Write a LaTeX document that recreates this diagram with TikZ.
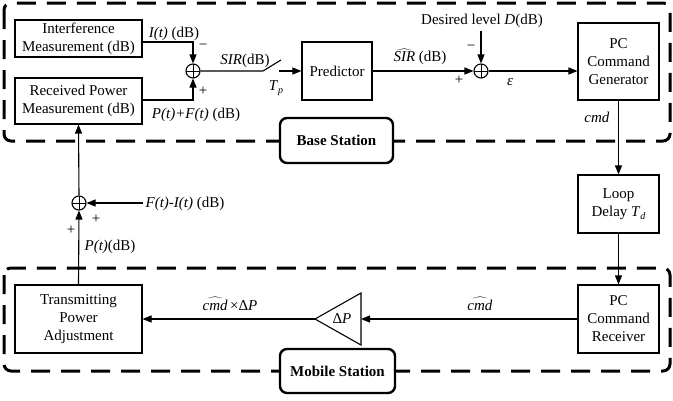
\documentclass[tikz,border=0pt]{standalone}
\usepackage{fontspec}
\setmainfont{Liberation Serif}
\usetikzlibrary{arrows.meta}
\newcommand{\lowsub}[1]{\raisebox{-0.45ex}{\fontsize{10}{10}\selectfont\textit{#1}}}
\newcommand{\hatted}[1]{$\widehat{\mbox{\textit{#1}}}$}

\begin{document}
\begin{tikzpicture}[x=1pt,y=-1pt,
  font=\fontsize{15}{18}\selectfont,
  blk/.style={draw, line width=1.1pt, align=center, inner sep=0pt},
  zone/.style={draw, line width=3pt, dash pattern=on 19pt off 11pt, rounded corners=7pt},
  tag/.style={draw, line width=2.4pt, rounded corners=7pt, fill=white,
              font=\fontsize{15}{18}\selectfont\bfseries, inner sep=0pt},
  sig/.style={line width=1.1pt},
  arr/.style={sig, -{Triangle[length=9pt,width=7pt]}},
  lbl/.style={font=\fontsize{15}{17}\selectfont, inner sep=1pt},
  sumc/.style={draw, circle, line width=1.1pt, minimum size=14pt, inner sep=0pt,
    path picture={\draw[line width=1pt]
      (path picture bounding box.north) -- (path picture bounding box.south)
      (path picture bounding box.west) -- (path picture bounding box.east);}}
]
\useasboundingbox (0,0) rectangle (673,400);

% station zones
\draw[zone] (4,3) rectangle (670,141);
\draw[zone] (4,268) rectangle (670,371);
\node[tag, minimum width=113pt, minimum height=45pt] (bs) at (336.5,140.5) {Base Station};
\node[tag, minimum width=115pt, minimum height=44pt] (ms) at (337.5,371) {Mobile Station};

% blocks
\node[blk, minimum width=127pt, minimum height=37pt] (intf) at (78.5,38.5) {Interference\\Measurement (dB)};
\node[blk, minimum width=127pt, minimum height=46pt] (recv) at (78.5,101) {Received Power\\Measurement (dB)};
\node[blk, minimum width=70pt, minimum height=58pt] (pred) at (337,71) {Predictor};
\node[blk, minimum width=81pt, minimum height=77pt] (pcg) at (618.5,61.5) {PC\\Command\\Generator};
\node[blk, minimum width=81pt, minimum height=58pt] (loop) at (618.5,204) {Loop\\Delay \textit{T}\lowsub{d}};
\node[blk, minimum width=81pt, minimum height=68pt] (pcr) at (618.5,319) {PC\\Command\\Receiver};
\node[blk, minimum width=127pt, minimum height=68pt] (tpa) at (78.5,319) {Transmitting\\Power\\Adjustment};

% summing junctions
\node[sumc] (s1) at (193,71) {};
\node[sumc] (s2) at (481,71) {};
\node[sumc] (s3) at (79,203) {};

% gain triangle
\coordinate (triR) at (361,319);
\coordinate (triL) at (315,319);
\draw[line width=1.1pt] (361,293) -- (361,345) -- (triL) -- cycle;
\node[lbl] (gain) at (342,319) {Δ\textit{P}};

% sampling switch and free ends
\coordinate (sw1) at (263,71);
\coordinate (sw2) at (281,60);
\coordinate (sw3) at (279,71);
\coordinate (dref) at (481,31);
\coordinate (fin) at (143,203);

% connectors
\draw[arr] ([yshift=-3.5pt]intf.east) -| (s1.north);
\draw[arr] ([yshift=1pt]recv.east) -| (s1.south);
\draw[sig] (s1.east) -- (sw1) -- (sw2);
\draw[arr] (sw3) -- (pred.west);
\draw[arr] (pred.east) -- (s2.west);
\draw[arr] (dref) -- (s2.north);
\draw[arr] (s2.east) -- (s2.east -| pcg.west);
\draw[arr] (pcg.south) -- (loop.north);
\draw[arr] (loop.south) -- (pcr.north);
\draw[arr] (pcr.west) -- (triR);
\draw[arr] (triL) -- (tpa.east);
\draw[arr] (tpa.north) -- (s3.south);
\draw[arr] (fin) -- (s3.east);
\draw[arr] (s3.north) -- (recv.south);

% signal labels
\node[lbl] (l1) at (174,34) {\textit{I(t)} (dB)};
\node[lbl] (m1) at (203,47) {−};
\node[lbl] (p1) at (203,91) {+};
\node[lbl] (l2) at (196,115) {\textit{P(t)+F(t)} (dB)};
\node[lbl] (l3) at (245,61) {\textit{SIR}(dB)};
\node[lbl] (l4) at (276,88) {\textit{T}\lowsub{p}};
\node[lbl] (l5) at (420,57) {\hatted{SIR} (dB)};
\node[lbl] (l6) at (482,21) {Desired level \textit{D}(dB)};
\node[lbl] (m2) at (471,48) {−};
\node[lbl] (p2) at (459,80) {+};
\node[lbl] (l7) at (510,82) {\textit{ε}};
\node[lbl] (l8) at (597,117) {\textit{cmd}};
\node[lbl] (l9) at (480,304) {\hatted{cmd}};
\node[lbl] (l10) at (230,304) {\hatted{cmd}\,×Δ\textit{P}};
\node[lbl] (l11) at (185,204) {\textit{F(t)-I(t)} (dB)};
\node[lbl] (l12) at (110,247) {\textit{P(t)}(dB)};
\node[lbl] (p3) at (71,230) {+};
\node[lbl] (p4) at (96,219) {+};
\end{tikzpicture}
\end{document}
